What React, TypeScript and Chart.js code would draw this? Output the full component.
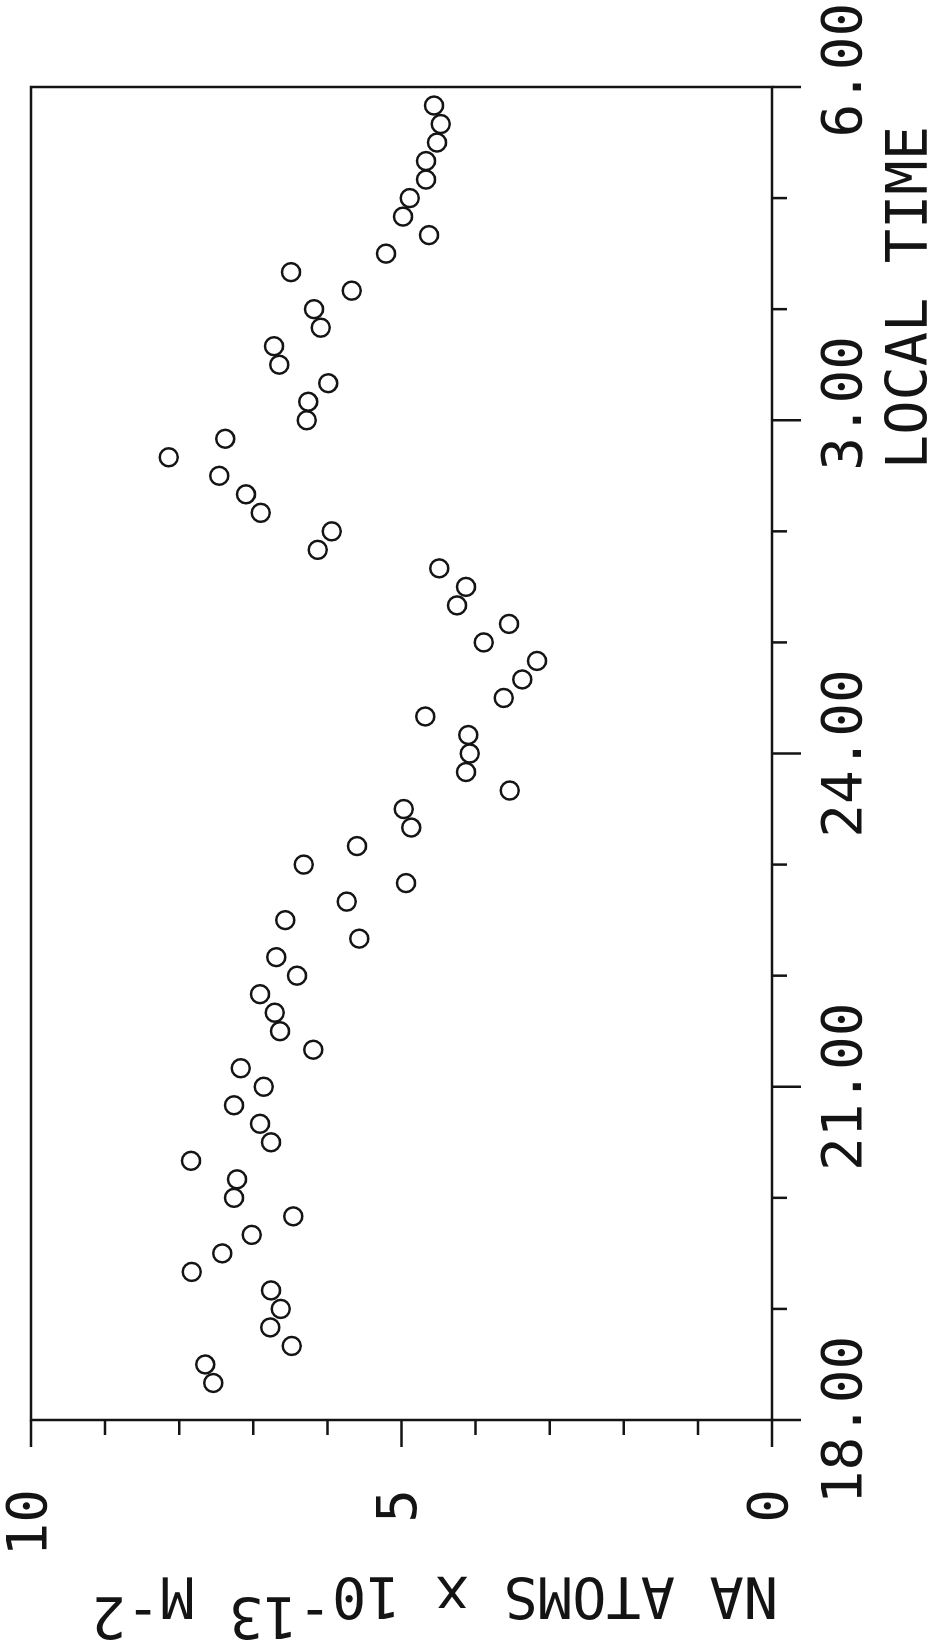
import React, { useEffect, useRef } from "react";
import { Chart, registerables } from "chart.js";

Chart.register(...registerables);

// Observation times (local time, every point of the night series)
const LOCAL_TIMES = [
  "18:20", "18:30", "18:40", "18:50", "19:00", "19:10", "19:20", "19:30", "19:40", "19:50",
  "20:00", "20:10", "20:20", "20:30", "20:40", "20:50", "21:00", "21:10", "21:20", "21:30",
  "21:40", "21:50", "22:00", "22:10", "22:20", "22:30", "22:40", "22:50", "23:00", "23:10",
  "23:20", "23:30", "23:40", "23:50", "00:00", "00:10", "00:20", "00:30", "00:40", "00:50",
  "01:00", "01:10", "01:20", "01:30", "01:40", "01:50", "02:00", "02:10", "02:20", "02:30",
  "02:40", "02:50", "03:00", "03:10", "03:20", "03:30", "03:40", "03:50", "04:00", "04:10",
  "04:20", "04:30", "04:40", "04:50", "05:00", "05:10", "05:20", "05:30", "05:40", "05:50",
];

// Na column abundance, units of 10^13 m^-2
const NA_ATOMS = [
  7.54, 7.65, 6.48, 6.77, 6.63, 6.76, 7.83, 7.42, 7.02, 6.46,
  7.26, 7.22, 7.84, 6.76, 6.91, 7.26, 6.86, 7.17, 6.19, 6.64,
  6.71, 6.91, 6.41, 6.69, 5.57, 6.57, 5.74, 4.94, 6.32, 5.6,
  4.87, 4.97, 3.54, 4.13, 4.08, 4.1, 4.68, 3.62, 3.37, 3.17,
  3.89, 3.55, 4.25, 4.13, 4.49, 6.13, 5.94, 6.9, 7.1, 7.46,
  8.14, 7.38, 6.28, 6.26, 5.99, 6.65, 6.72, 6.09, 6.18, 5.67,
  6.49, 5.21, 4.63, 4.98, 4.89, 4.67, 4.67, 4.52, 4.47, 4.56,
];

const TIME_TICK_HOURS = [18, 19, 20, 21, 22, 23, 24, 25, 26, 27, 28, 29, 30];
const TIME_MAJOR_TICKS = [18, 21, 24, 27, 30];
const TIME_TICK_LABELS = ["18.00", "21.00", "24.00", "3.00", "6.00"];

const NA_TICK_VALUES = [0, 1, 2, 3, 4, 5, 6, 7, 8, 9, 10];
const NA_MAJOR_TICKS = [0, 5, 10];
const NA_TICK_LABELS = ["0", "5", "10"];

const X_TITLE = "LOCAL TIME";
const Y_TITLE_PARTS: [string, boolean][] = [
  ["NA ATOMS x 10", false],
  ["-13", true],
  [" M", false],
  ["-2", true],
];

const INK = "#141414";
const FONT_FAMILY = '"DejaVu Sans Mono", monospace';
const TICK_FONT_SIZE = 56;
const TITLE_FONT_SIZE = 57;

function toHours(s: string): number {
  const [h, m] = s.split(":").map(Number);
  let t = h + m / 60;
  if (t < 12) t += 24;
  return t;
}

const framePlugin = {
  id: "plotterFrame",
  beforeDraw(chart: any) {
    const { ctx, width, height } = chart;
    ctx.save();
    ctx.fillStyle = "#ffffff";
    ctx.fillRect(0, 0, width, height);
    ctx.restore();
  },
  afterDraw(chart: any) {
    const { ctx, chartArea: a } = chart;
    const xs = chart.scales.x;
    const ys = chart.scales.y;
    ctx.save();
    ctx.strokeStyle = INK;
    ctx.lineWidth = 2.5;
    ctx.strokeRect(a.left, a.top, a.right - a.left, a.bottom - a.top);
    ctx.beginPath();
    TIME_TICK_HOURS.forEach((h) => {
      const px = xs.getPixelForValue(h);
      const len = TIME_MAJOR_TICKS.includes(h) ? 29 : 15;
      ctx.moveTo(px, a.bottom);
      ctx.lineTo(px, a.bottom + len);
    });
    NA_TICK_VALUES.forEach((v) => {
      const py = ys.getPixelForValue(v);
      const len = NA_MAJOR_TICKS.includes(v) ? 27 : 15;
      ctx.moveTo(a.left, py);
      ctx.lineTo(a.left - len, py);
    });
    ctx.stroke();

    ctx.fillStyle = INK;
    ctx.font = `${TITLE_FONT_SIZE}px ${FONT_FAMILY}`;
    ctx.textAlign = "right";
    ctx.textBaseline = "alphabetic";
    ctx.fillText(X_TITLE, a.right - 39, a.bottom + 155);

    ctx.translate(a.left - 157, a.bottom + 6);
    ctx.rotate(-Math.PI / 2);
    ctx.textAlign = "left";
    let cx = 0;
    for (const [t, sup] of Y_TITLE_PARTS) {
      ctx.fillText(t, cx, sup ? -20 : 0);
      cx += ctx.measureText(t).width;
    }
    ctx.restore();
  },
};

export default function App() {
  const canvasRef = useRef<HTMLCanvasElement | null>(null);

  useEffect(() => {
    document.documentElement.style.overflow = "hidden";
    document.body.style.margin = "0";
    document.body.style.overflow = "hidden";
    const canvas = canvasRef.current;
    if (!canvas) return;
    const points = LOCAL_TIMES.map((t, i) => ({ x: toHours(t), y: NA_ATOMS[i] }));
    const chart = new Chart(canvas, {
      type: "scatter",
      data: {
        datasets: [
          {
            data: points,
            pointRadius: 9,
            pointHoverRadius: 9,
            pointBorderWidth: 2.5,
            pointBorderColor: INK,
            pointBackgroundColor: "rgba(0,0,0,0)",
            showLine: false,
          },
        ],
      },
      options: {
        responsive: false,
        animation: false,
        devicePixelRatio: 1,
        events: [],
        layout: { padding: { top: 31, right: 87, bottom: 0, left: 0 } },
        plugins: { legend: { display: false }, tooltip: { enabled: false }, title: { display: false } },
        scales: {
          x: {
            type: "linear",
            position: "bottom",
            min: 18,
            max: 30,
            grid: { display: false, drawTicks: false },
            border: { display: false },
            afterBuildTicks: (s: any) => {
              s.ticks = TIME_MAJOR_TICKS.map((v) => ({ value: v }));
            },
            afterFit: (s: any) => {
              s.height = 161;
              s.paddingLeft = 0;
              s.paddingRight = 0;
            },
            ticks: {
              autoSkip: false,
              maxRotation: 0,
              minRotation: 0,
              padding: 46,
              color: INK,
              font: { family: FONT_FAMILY, size: TICK_FONT_SIZE, lineHeight: 1 },
              callback: (v: any) => {
                const lbl = TIME_TICK_LABELS[TIME_MAJOR_TICKS.indexOf(Number(v))] ?? "";
                return lbl.length < 5 ? " " + lbl : lbl;
              },
            },
          },
          y: {
            type: "linear",
            position: "left",
            min: 0,
            max: 10,
            grid: { display: false, drawTicks: false },
            border: { display: false },
            afterBuildTicks: (s: any) => {
              s.ticks = NA_MAJOR_TICKS.map((v) => ({ value: v }));
            },
            afterFit: (s: any) => {
              s.width = 228;
              s.paddingTop = 0;
              s.paddingBottom = 0;
            },
            ticks: {
              autoSkip: false,
              padding: 69,
              color: INK,
              font: { family: FONT_FAMILY, size: TICK_FONT_SIZE, lineHeight: 1 },
              callback: (v: any) => NA_TICK_LABELS[NA_MAJOR_TICKS.indexOf(Number(v))] ?? "",
            },
          },
        },
      },
      plugins: [framePlugin],
    });
    return () => chart.destroy();
  }, []);

  return (
    <div
      style={{
        position: "absolute",
        left: 0,
        top: 0,
        width: 1648,
        height: 933,
        transformOrigin: "0 0",
        transform: "translateY(1648px) rotate(-90deg)",
        background: "#ffffff",
      }}
    >
      <canvas ref={canvasRef} width={1648} height={933} style={{ display: "block" }} />
    </div>
  );
}
